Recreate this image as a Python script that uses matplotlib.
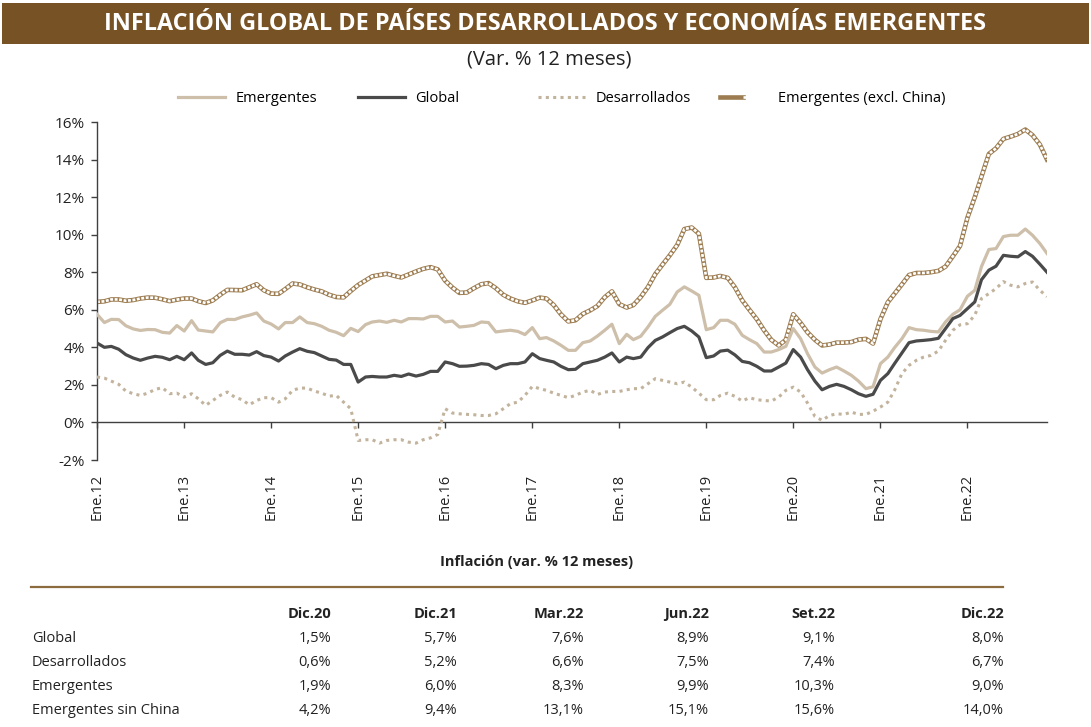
"""Inflación global: países desarrollados y economías emergentes (var. % 12 meses)."""
import matplotlib
matplotlib.use("Agg")
import matplotlib.pyplot as plt
import pandas as pd
from matplotlib.patches import Rectangle
from matplotlib.lines import Line2D
from matplotlib.legend_handler import HandlerTuple
from matplotlib.ticker import FuncFormatter

plt.rcParams['font.family'] = ['Open Sans', 'DejaVu Sans']

BROWN = "#775224"
RULE = "#8C6B3F"
C_EMER = "#CDBFAA"
C_GLOB = "#4A4A4A"
C_DES = "#C2B39D"
C_EXCH = "#9C7C50"
TXT = "#222222"

W, H = 1091, 727


def fx(x):
    return x / W


def fy(y):
    return 1 - y / H


# ---------------------------------------------------------------------------
# data (monthly, Ene.2012 - Dic.2022)
# ---------------------------------------------------------------------------
fechas = pd.date_range("2012-01-01", "2022-12-01", freq="MS").to_pydatetime()

emergentes = [
    5.76, 5.32, 5.49, 5.48, 5.15, 4.98, 4.90, 4.95, 4.94, 4.80, 4.76, 5.16,
    4.87, 5.42, 4.92, 4.87, 4.82, 5.31, 5.49, 5.48, 5.62, 5.71, 5.83, 5.40,
    5.24, 4.98, 5.32, 5.32, 5.62, 5.32, 5.26, 5.12, 4.91, 4.80, 4.62, 5.01,
    4.84, 5.21, 5.35, 5.40, 5.33, 5.44, 5.35, 5.53, 5.53, 5.51, 5.65, 5.65,
    5.35, 5.40, 5.08, 5.12, 5.17, 5.35, 5.32, 4.82, 4.87, 4.91, 4.85, 4.68,
    5.05, 4.46, 4.52, 4.34, 4.11, 3.84, 3.84, 4.25, 4.34, 4.60, 4.91, 5.23,
    4.20, 4.69, 4.41, 4.59, 5.08, 5.65, 5.97, 6.29, 6.95, 7.22, 7.00, 6.77,
    4.94, 5.05, 5.44, 5.44, 5.23, 4.64, 4.41, 4.20, 3.75, 3.75, 3.88, 4.05,
    5.00, 4.46, 3.66, 2.95, 2.63, 2.81, 2.95, 2.74, 2.51, 2.20, 1.80, 1.90,
    3.13, 3.48, 3.98, 4.46, 5.05, 4.94, 4.91, 4.85, 4.82, 5.35, 5.76, 6.00,
    6.72, 7.04, 8.30, 9.21, 9.26, 9.90, 9.97, 9.97, 10.30, 9.97, 9.53, 9.00,
]

global_ = [
    4.23, 4.00, 4.05, 3.90, 3.61, 3.43, 3.31, 3.43, 3.52, 3.47, 3.34, 3.52,
    3.34, 3.70, 3.31, 3.09, 3.18, 3.57, 3.80, 3.63, 3.63, 3.59, 3.77, 3.56,
    3.48, 3.27, 3.54, 3.75, 3.93, 3.79, 3.72, 3.54, 3.36, 3.32, 3.09, 3.09,
    2.15, 2.42, 2.45, 2.42, 2.42, 2.51, 2.45, 2.58, 2.47, 2.56, 2.72, 2.72,
    3.22, 3.13, 2.99, 3.00, 3.04, 3.13, 3.09, 2.86, 3.04, 3.13, 3.13, 3.22,
    3.66, 3.40, 3.31, 3.22, 2.99, 2.81, 2.83, 3.13, 3.22, 3.31, 3.48, 3.70,
    3.22, 3.48, 3.40, 3.48, 3.98, 4.37, 4.55, 4.78, 5.00, 5.12, 4.87, 4.55,
    3.45, 3.54, 3.80, 3.85, 3.60, 3.25, 3.18, 2.99, 2.74, 2.74, 2.95, 3.16,
    3.88, 3.48, 2.81, 2.20, 1.74, 1.92, 2.03, 1.92, 1.74, 1.53, 1.39, 1.50,
    2.24, 2.60, 3.13, 3.70, 4.25, 4.34, 4.37, 4.41, 4.48, 5.00, 5.53, 5.70,
    6.06, 6.42, 7.60, 8.11, 8.32, 8.90, 8.85, 8.82, 9.10, 8.85, 8.43, 8.00,
]

desarrollados = [
    2.42, 2.36, 2.20, 2.03, 1.67, 1.53, 1.44, 1.56, 1.76, 1.85, 1.53, 1.56,
    1.35, 1.53, 1.26, 0.91, 1.17, 1.44, 1.62, 1.35, 1.21, 0.94, 1.17, 1.32,
    1.32, 1.08, 1.26, 1.71, 1.83, 1.83, 1.67, 1.56, 1.40, 1.44, 1.08, 0.73,
    -0.96, -0.92, -0.92, -1.10, -0.96, -0.92, -0.92, -1.05, -1.10, -0.92, -0.82, -0.64,
    0.73, 0.50, 0.46, 0.43, 0.41, 0.37, 0.37, 0.46, 0.73, 1.00, 1.08, 1.44,
    1.92, 1.80, 1.71, 1.56, 1.44, 1.32, 1.44, 1.62, 1.71, 1.49, 1.62, 1.65,
    1.65, 1.74, 1.80, 1.80, 2.06, 2.33, 2.24, 2.15, 2.06, 2.15, 1.88, 1.56,
    1.21, 1.21, 1.44, 1.56, 1.39, 1.14, 1.32, 1.21, 1.17, 1.14, 1.35, 1.71,
    1.88, 1.62, 1.03, 0.32, 0.11, 0.37, 0.46, 0.43, 0.55, 0.43, 0.43, 0.60,
    0.82, 1.08, 1.71, 2.60, 3.04, 3.31, 3.48, 3.57, 3.80, 4.37, 4.91, 5.20,
    5.26, 5.71, 6.60, 6.86, 7.13, 7.50, 7.31, 7.22, 7.40, 7.48, 7.04, 6.70,
]

emer_excl_china = [
    6.42, 6.45, 6.55, 6.55, 6.48, 6.52, 6.60, 6.65, 6.64, 6.56, 6.46, 6.54,
    6.60, 6.60, 6.46, 6.36, 6.50, 6.80, 7.06, 7.05, 7.04, 7.20, 7.36, 7.04,
    6.86, 6.85, 7.10, 7.40, 7.35, 7.20, 7.08, 6.98, 6.80, 6.68, 6.66, 7.00,
    7.32, 7.56, 7.78, 7.85, 7.92, 7.81, 7.72, 7.88, 8.04, 8.18, 8.27, 8.15,
    7.55, 7.18, 6.90, 6.92, 7.15, 7.36, 7.42, 7.15, 6.80, 6.60, 6.45, 6.37,
    6.50, 6.65, 6.60, 6.25, 5.76, 5.38, 5.44, 5.78, 5.97, 6.20, 6.67, 6.98,
    6.30, 6.12, 6.25, 6.68, 7.20, 7.90, 8.40, 8.90, 9.45, 10.30, 10.38, 10.05,
    7.70, 7.72, 7.80, 7.70, 7.20, 6.50, 6.00, 5.50, 4.90, 4.40, 4.10, 4.40,
    5.76, 5.30, 4.80, 4.40, 4.10, 4.15, 4.25, 4.25, 4.28, 4.41, 4.45, 4.20,
    5.50, 6.40, 6.85, 7.35, 7.85, 7.96, 7.96, 8.00, 8.07, 8.30, 8.85, 9.40,
    10.90, 12.00, 13.10, 14.30, 14.60, 15.10, 15.22, 15.36, 15.60, 15.30, 14.80, 14.00,
]

y_ticks = [-2, 0, 2, 4, 6, 8, 10, 12, 14, 16]

# table under the chart
tabla_cols = ["Dic.20", "Dic.21", "Mar.22", "Jun.22", "Set.22", "Dic.22"]
tabla_filas = ["Global", "Desarrollados", "Emergentes", "Emergentes sin China"]
tabla_global = ["1,5%", "5,7%", "7,6%", "8,9%", "9,1%", "8,0%"]
tabla_desarrollados = ["0,6%", "5,2%", "6,6%", "7,5%", "7,4%", "6,7%"]
tabla_emergentes = ["1,9%", "6,0%", "8,3%", "9,9%", "10,3%", "9,0%"]
tabla_sin_china = ["4,2%", "9,4%", "13,1%", "15,1%", "15,6%", "14,0%"]

# ---------------------------------------------------------------------------
# figure
# ---------------------------------------------------------------------------
fig = plt.figure(figsize=(W / 100, H / 100), dpi=100)

# header bar + subtitle
fig.patches.append(Rectangle((fx(2), fy(44)), fx(1087), 41 / H,
                             transform=fig.transFigure, facecolor=BROWN,
                             edgecolor="none"))
fig.text(0.5, fy(24), "INFLACIÓN GLOBAL DE PAÍSES DESARROLLADOS Y ECONOMÍAS EMERGENTES",
         ha="center", va="center", color="white", fontsize=16.8, fontweight="bold")
fig.text(fx(549), fy(60), "(Var. % 12 meses)", ha="center", va="center",
         color=TXT, fontsize=14.5)

ax = fig.add_axes([fx(97), fy(460), fx(1047 - 97), (460 - 122) / H])

# excl. China: hollow-diamond chain look = brown stroke with white dashed core
l_exch, = ax.plot(fechas, emer_excl_china, color=C_EXCH, lw=3.3, zorder=2)
l_exch_in, = ax.plot(fechas, emer_excl_china, color="white", lw=1.9,
                     linestyle=(0, (1.1, 0.6)), zorder=2.1)
l_emer, = ax.plot(fechas, emergentes, color=C_EMER, lw=2.3, zorder=3)
l_des, = ax.plot(fechas, desarrollados, color=C_DES, lw=2.2,
                 linestyle=(0, (1, 1.4)), zorder=3)
l_glob, = ax.plot(fechas, global_, color=C_GLOB, lw=2.3, zorder=4)

ax.set_xlim(fechas[0], fechas[-1])
ax.set_ylim(y_ticks[0], y_ticks[-1])
ax.set_yticks(y_ticks)
ax.yaxis.set_major_formatter(FuncFormatter(lambda v, _: f"{v:.0f}%"))

ene = [d for d in fechas if d.month == 1]
ax.set_xticks(ene)
ax.set_xticklabels([f"Ene.{d.year % 100:02d}" for d in ene])

for s in ("top", "right"):
    ax.spines[s].set_visible(False)
ax.spines["bottom"].set_position(("data", 0))
for s in ("left", "bottom"):
    ax.spines[s].set_color("#404040")
    ax.spines[s].set_linewidth(1.0)
ax.tick_params(axis="y", direction="out", length=4, width=1, color="#404040",
               labelsize=11, labelcolor=TXT, pad=5)
ax.tick_params(axis="x", direction="out", length=4, width=1, color="#404040",
               labelsize=10.5, labelcolor=TXT, pad=33, labelrotation=90)

# legend: one entry per slot, as in the original layout
entries = [
    (l_emer, "Emergentes", 178),
    (l_glob, "Global", 358),
    (l_des, "Desarrollados", 538),
    ((l_exch, l_exch_in), "Emergentes (excl. China)", 720),
]
for h, lbl, x0 in entries:
    fig.legend([h], [lbl], loc="center left", bbox_to_anchor=(fx(x0), fy(99)),
               frameon=False, fontsize=10.5, handlelength=3.2,
               handletextpad=0.75, borderpad=0, borderaxespad=0,
               handler_map={tuple: HandlerTuple(ndivide=None, pad=0)})

# ---------------------------------------------------------------------------
# table
# ---------------------------------------------------------------------------
fig.text(fx(537), fy(562), "Inflación (var. % 12 meses)", ha="center",
         va="center", fontsize=10.5, fontweight="bold", color=TXT)
fig.add_artist(Line2D([fx(31), fx(1003)], [fy(587), fy(587)],
                      transform=fig.transFigure, color=RULE, lw=1.6))

col_x = [331, 457, 584, 709, 835, 1004]
row_y = [638, 662, 686, 710]
for c, lbl in zip(col_x, tabla_cols):
    fig.text(fx(c), fy(614), lbl, ha="right", va="center", fontsize=10.5,
             fontweight="bold", color=TXT)
filas = [tabla_global, tabla_desarrollados, tabla_emergentes, tabla_sin_china]
for y, nombre, vals in zip(row_y, tabla_filas, filas):
    fig.text(fx(32), fy(y), nombre, ha="left", va="center", fontsize=10.5,
             color=TXT)
    for c, v in zip(col_x, vals):
        fig.text(fx(c), fy(y), v, ha="right", va="center", fontsize=10.5,
                 color=TXT)

fig.savefig("out.png", dpi=100)
plt.close(fig)
